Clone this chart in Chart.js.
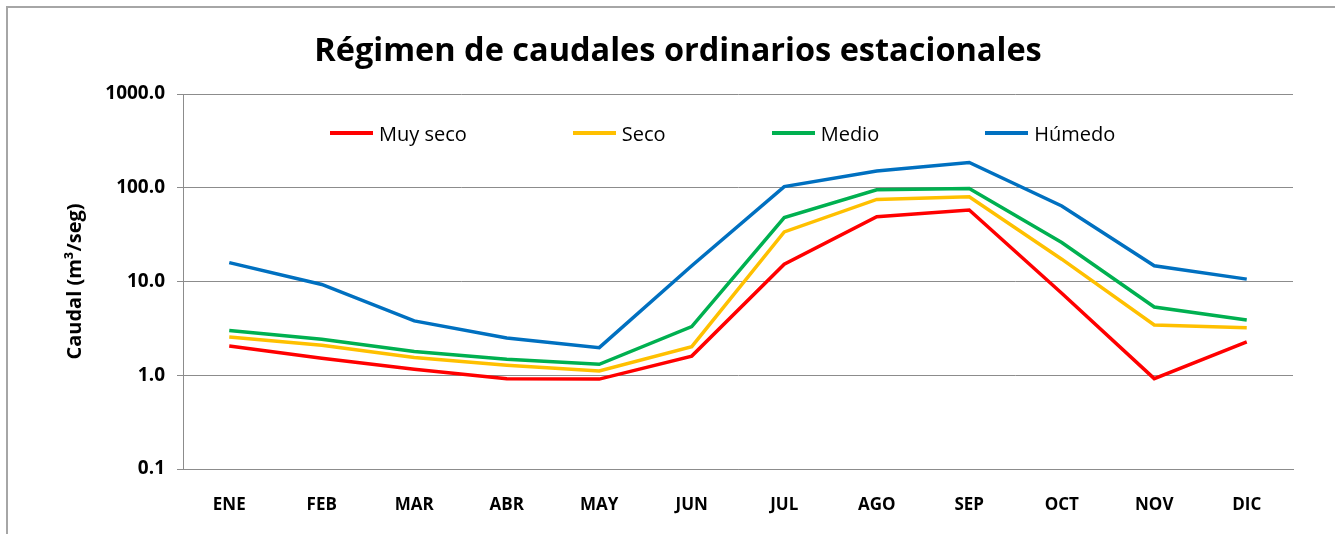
<!DOCTYPE html>
<html>
<head>
<meta charset="utf-8">
<title>Régimen de caudales</title>
<script src="https://cdn.jsdelivr.net/npm/chart.js@4.4.1/dist/chart.umd.min.js"></script>
<style>
  html, body { margin: 0; padding: 0; background: #fff; overflow: hidden; }
  #frame {
    position: absolute; left: 6px; top: 6px;
    width: 1400px; height: 600px;
    border: 2px solid #a6a6a6;
  }
  #wrap { position: absolute; left: 0; top: 0; width: 1335px; height: 534px; }
  #legend {
    position: absolute; left: 330px; top: 121px; height: 24px;
    display: flex; align-items: center;
    font-family: "Open Sans", sans-serif; font-size: 20px; color: #000;
    white-space: nowrap;
  }
  .item { display: flex; align-items: center; margin-right: 106px; }
  .swatch { display: inline-block; width: 43px; height: 4px; margin-right: 6px; }
</style>
</head>
<body>
<div id="frame"></div>
<div id="wrap"><canvas id="chart"></canvas></div>
<div id="legend"></div>
<script>
// Months (categories)
const months = ["ENE", "FEB", "MAR", "ABR", "MAY", "JUN", "JUL", "AGO", "SEP", "OCT", "NOV", "DIC"];

// Log axis ticks
const yTicks = [0.1, 1, 10, 100, 1000];

// Flow values (m3/seg)
const muySeco = [2.05, 1.52, 1.16, 0.92, 0.91, 1.6, 15.3, 49, 58, 7.5, 0.92, 2.27];
const seco    = [2.56, 2.09, 1.55, 1.28, 1.11, 2.02, 33.8, 75, 80, 17.3, 3.44, 3.22];
const medio   = [3.0, 2.42, 1.79, 1.48, 1.31, 3.3, 48, 95, 98, 26, 5.35, 3.89];
const humedo  = [15.9, 9.3, 3.8, 2.5, 1.97, 14.7, 103, 151, 186, 64, 14.7, 10.6];

const FONT = '"Open Sans", sans-serif';
const GRID = "#8c8c8c";

function line(label, data, color) {
  return {
    label: label,
    data: data,
    borderColor: color,
    backgroundColor: color,
    borderWidth: 3.5,
    pointRadius: 0,
    tension: 0,
    fill: false
  };
}

const chart = new Chart(document.getElementById("chart"), {
  type: "line",
  data: {
    labels: months,
    datasets: [
      line("Muy seco", muySeco, "#ff0000"),
      line("Seco", seco, "#ffc000"),
      line("Medio", medio, "#00b050"),
      line("Húmedo", humedo, "#0070c0")
    ]
  },
  options: {
    responsive: true,
    maintainAspectRatio: false,
    animation: false,
    layout: { padding: { left: 63, right: 42, top: 0, bottom: 0 } },
    plugins: {
      legend: { display: false },
      tooltip: { enabled: false },
      title: {
        display: true,
        text: "Régimen de caudales ordinarios estacionales",
        color: "#000",
        font: { family: FONT, size: 32.5, weight: "bold" },
        padding: { top: 32, bottom: 23 }
      }
    },
    scales: {
      x: {
        offset: true,
        grid: { display: false, drawTicks: false },
        border: { display: true, color: GRID, width: 1 },
        ticks: {
          color: "#000",
          padding: 26,
          maxRotation: 0,
          font: { family: FONT, size: 17, weight: "bold" }
        },
        afterFit: (scale) => { scale.height = 65; }
      },
      y: {
        type: "logarithmic",
        min: 0.1,
        max: 1000,
        grid: { color: GRID, lineWidth: 1, tickLength: 6, drawTicks: true },
        border: { display: true, color: GRID, width: 1 },
        afterBuildTicks: (axis) => {
          axis.ticks = yTicks.map((v) => ({ value: v }));
        },
        ticks: {
          color: "#000",
          padding: 12,
          font: { family: FONT, size: 19, weight: "bold" },
          callback: (v) => Number(v).toFixed(1)
        },
        title: {
          display: true,
          text: "Caudal (m³/seg)",
          color: "#000",
          padding: { top: 0, bottom: 0 },
          font: { family: FONT, size: 20, weight: "bold" }
        },
        afterFit: (scale) => { scale.width = 120; }
      }
    }
  }
});

// HTML legend built from the chart's datasets
const legendBox = document.getElementById("legend");
chart.data.datasets.forEach((ds) => {
  const item = document.createElement("span");
  item.className = "item";
  const sw = document.createElement("span");
  sw.className = "swatch";
  sw.style.background = ds.borderColor;
  const txt = document.createElement("span");
  txt.textContent = ds.label;
  item.appendChild(sw);
  item.appendChild(txt);
  legendBox.appendChild(item);
});
</script>
</body>
</html>
